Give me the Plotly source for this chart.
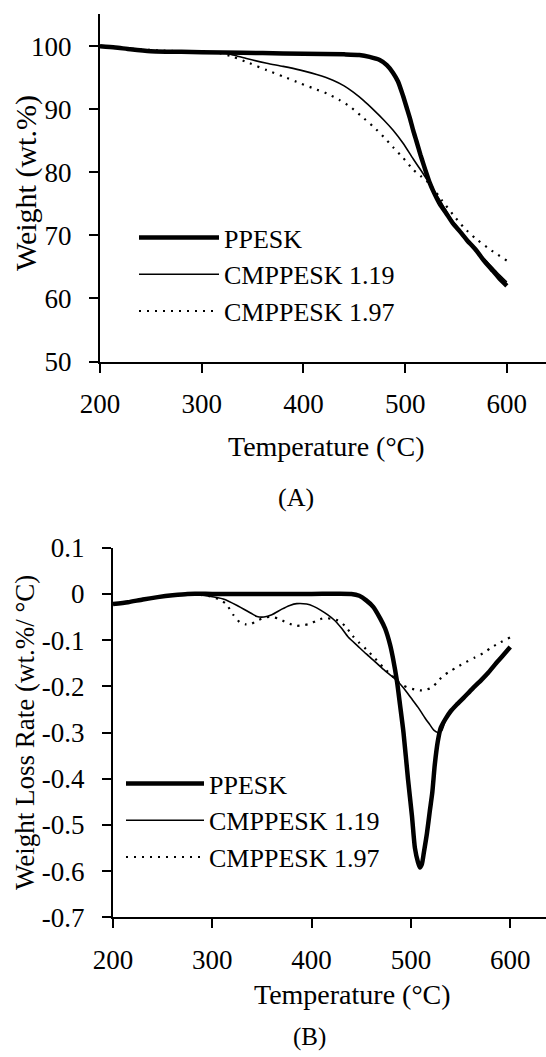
import plotly.graph_objects as go

# ---------------- Panel A: TGA (weight %) ----------------
ppesk_tga_T = [200, 215, 230, 250, 280, 320, 360, 400, 440, 455, 465, 475, 482, 488, 493, 498, 502, 505, 508, 511,
               515, 518, 521, 524, 528, 534, 540, 547, 554, 561, 569, 577, 585, 592, 600]
ppesk_tga_W = [100.0, 99.8, 99.5, 99.2, 99.1, 99.0, 98.9, 98.8, 98.7, 98.6, 98.3, 97.8, 97.0, 95.8, 94.4, 92.1, 90.0,
               88.4, 86.6, 85.0, 82.8, 81.3, 79.8, 78.4, 76.9, 75.0, 73.6, 71.9, 70.6, 69.2, 67.8, 66.1, 64.6, 63.3, 62.0]

cm119_tga_T = [200, 230, 260, 300, 320, 331, 345, 364, 380, 397, 413, 429, 440, 449, 459, 469, 479, 488, 498, 508,
               516, 524, 530, 537, 545, 553, 562, 571, 580, 590, 600]
cm119_tga_W = [100.0, 99.5, 99.2, 99.1, 99.0, 98.6, 98.0, 97.3, 96.8, 96.2, 95.5, 94.6, 93.7, 92.7, 91.4, 89.9, 88.3,
               86.7, 84.6, 82.1, 80.2, 78.2, 76.7, 74.8, 72.7, 70.9, 69.1, 67.4, 65.9, 64.2, 62.6]

cm197_tga_T = [200, 230, 260, 300, 318, 331, 347, 364, 380, 397, 410, 423, 435, 446, 457, 469, 479, 488, 498, 508,
               516, 524, 536, 547, 558, 570, 585, 600]
cm197_tga_W = [100.0, 99.6, 99.3, 99.1, 98.9, 98.3, 97.3, 96.2, 95.2, 94.1, 93.3, 92.5, 91.5, 90.4, 88.9, 87.2, 85.6,
               84.0, 82.3, 80.4, 79.3, 78.2, 75.6, 73.3, 71.2, 69.4, 67.6, 66.0]

# ---------------- Panel B: DTG (weight loss rate) ----------------
ppesk_dtg_T = [200, 215, 230, 245, 260, 275, 300, 350, 400, 440, 448, 455, 462, 469, 474, 479, 482, 486, 489, 492.5,
               497, 501, 504, 507, 509, 511, 513, 516, 519, 521.5, 524, 527, 530, 535, 540, 546, 553, 562, 571, 578,
               585, 592, 600]
ppesk_dtg_V = [-0.022, -0.018, -0.012, -0.007, -0.003, 0.0, 0.0, 0.0, 0.0, 0.0, -0.004, -0.014, -0.028, -0.053, -0.075,
               -0.11, -0.14, -0.19, -0.24, -0.30, -0.40, -0.48, -0.55, -0.58, -0.592, -0.585, -0.56, -0.52, -0.47,
               -0.43, -0.37, -0.32, -0.29, -0.27, -0.254, -0.24, -0.225, -0.205, -0.186, -0.17, -0.152, -0.135, -0.115]

cm119_dtg_T = [200, 230, 260, 275, 297, 311, 325, 339, 345, 352, 360, 370, 378, 385, 395, 402, 409, 416, 423, 430, 437,
               446, 455, 464, 472, 480, 486, 493, 500, 507, 514, 519, 523, 527, 531, 535, 540, 546, 553, 562, 571, 578,
               585, 592, 600]
cm119_dtg_V = [-0.022, -0.012, -0.003, 0.0, -0.005, -0.011, -0.025, -0.042, -0.049, -0.05, -0.045, -0.033, -0.025,
               -0.021, -0.022, -0.027, -0.035, -0.045, -0.057, -0.074, -0.094, -0.112, -0.13, -0.147, -0.163, -0.177,
               -0.188, -0.205, -0.225, -0.245, -0.268, -0.283, -0.295, -0.30, -0.296, -0.272, -0.254, -0.24, -0.225,
               -0.205, -0.186, -0.17, -0.152, -0.135, -0.117]

cm197_dtg_T = [200, 230, 260, 275, 297, 307, 314, 321, 328, 334, 339, 346, 353, 360, 367, 375, 384, 391, 398, 405, 413,
               420, 427, 434, 441, 448, 455, 464, 472, 480, 486, 492, 497, 504, 511, 516, 521, 526, 532, 539, 546, 555,
               564, 573, 581, 590, 600]
cm197_dtg_V = [-0.022, -0.012, -0.003, 0.0, -0.005, -0.012, -0.022, -0.045, -0.062, -0.066, -0.065, -0.057, -0.051,
               -0.05, -0.054, -0.062, -0.069, -0.068, -0.065, -0.058, -0.052, -0.054, -0.058, -0.07, -0.09, -0.106,
               -0.12, -0.14, -0.159, -0.175, -0.188, -0.198, -0.203, -0.207, -0.209, -0.207, -0.203, -0.192, -0.178,
               -0.168, -0.159, -0.148, -0.138, -0.128, -0.116, -0.105, -0.094]

series_names = ["PPESK", "CMPPESK 1.19", "CMPPESK 1.97"]
x_ticks = [200, 300, 400, 500, 600]
ya_ticks = [50, 60, 70, 80, 90, 100]
yb_ticks = [-0.7, -0.6, -0.5, -0.4, -0.3, -0.2, -0.1, 0, 0.1]
yb_ticktext = ["-0.7", "-0.6", "-0.5", "-0.4", "-0.3", "-0.2", "-0.1", "0", "0.1"]

FONT = "Liberation Serif, Times New Roman, serif"
W, H = 546, 1057

styles = [dict(color="black", width=4.5),
          dict(color="black", width=1.6),
          dict(color="black", width=2.2, dash="2px,6px")]

fig = go.Figure()

tga = [(ppesk_tga_T, ppesk_tga_W), (cm119_tga_T, cm119_tga_W), (cm197_tga_T, cm197_tga_W)]
dtg = [(ppesk_dtg_T, ppesk_dtg_V), (cm119_dtg_T, cm119_dtg_V), (cm197_dtg_T, cm197_dtg_V)]

for name, (t, w), st in zip(series_names, tga, styles):
    fig.add_trace(go.Scatter(x=t, y=w, mode="lines", name=name, line=dict(shape="spline", smoothing=0.6, **st),
                             xaxis="x", yaxis="y", legend="legend"))
for name, (t, v), st in zip(series_names, dtg, styles):
    fig.add_trace(go.Scatter(x=t, y=v, mode="lines", name=name, line=dict(shape="spline", smoothing=0.6, **st),
                             xaxis="x2", yaxis="y2", legend="legend2"))

axis_common = dict(showline=True, linecolor="black", linewidth=2, ticks="outside", ticklen=9, tickwidth=2,
                   tickcolor="black", showgrid=False, zeroline=False, automargin=False,
                   tickfont=dict(family=FONT, size=27, color="black"))

fig.update_layout(
    template="none",
    width=W, height=H, autosize=False,
    margin=dict(l=0, r=0, t=0, b=0, pad=0),
    paper_bgcolor="white", plot_bgcolor="white",
    font=dict(family=FONT, color="black"),
    xaxis=dict(domain=[100 / W, 1.0], range=[200, 638.5], tickvals=x_ticks, anchor="y",
               ticklabelstandoff=8, **axis_common),
    yaxis=dict(domain=[1 - 361.5 / H, 1 - 14 / H], range=[50, 105.1], tickvals=ya_ticks, anchor="x",
               ticklabelstandoff=12, **axis_common),
    xaxis2=dict(domain=[113 / W, 1.0], range=[200, 636], tickvals=x_ticks, anchor="y2",
                ticklabelstandoff=8, **axis_common),
    yaxis2=dict(domain=[1 - 917.3 / H, 1 - 547.7 / H], range=[-0.7, 0.1], tickvals=yb_ticks, ticktext=yb_ticktext,
                anchor="x2", ticklabelstandoff=12, **axis_common),
    legend=dict(x=134 / W, y=1 - 214 / H, xanchor="left", yanchor="top", bgcolor="rgba(0,0,0,0)",
                itemwidth=80, font=dict(family=FONT, size=26, color="black"), tracegroupgap=0),
    legend2=dict(x=121 / W, y=1 - 760 / H, xanchor="left", yanchor="top", bgcolor="rgba(0,0,0,0)",
                 itemwidth=78, font=dict(family=FONT, size=26, color="black"), tracegroupgap=0),
    showlegend=True,
)

fig.add_annotation(text="Temperature (°C)", x=326 / W, y=1 - 447 / H, xref="paper", yref="paper",
                   showarrow=False, xanchor="center", yanchor="middle", font=dict(family=FONT, size=28, color="black"))
fig.add_annotation(text="Weight (wt.%)", x=26 / W, y=1 - 183 / H, xref="paper", yref="paper",
                   showarrow=False, xanchor="center", yanchor="middle", textangle=-90,
                   font=dict(family=FONT, size=30, color="black"))
fig.add_annotation(text="(A)", x=296 / W, y=1 - 498 / H, xref="paper", yref="paper",
                   showarrow=False, xanchor="center", yanchor="middle", font=dict(family=FONT, size=26, color="black"))
fig.add_annotation(text="Temperature (°C)", x=352 / W, y=1 - 994 / H, xref="paper", yref="paper",
                   showarrow=False, xanchor="center", yanchor="middle", font=dict(family=FONT, size=28, color="black"))
fig.add_annotation(text="Weight Loss Rate (wt.%/ °C)", x=25 / W, y=1 - 733 / H, xref="paper", yref="paper",
                   showarrow=False, xanchor="center", yanchor="middle", textangle=-90,
                   font=dict(family=FONT, size=27, color="black"))
fig.add_annotation(text="(B)", x=309 / W, y=1 - 1037 / H, xref="paper", yref="paper",
                   showarrow=False, xanchor="center", yanchor="middle", font=dict(family=FONT, size=25, color="black"))

fig.write_html("out.html")
